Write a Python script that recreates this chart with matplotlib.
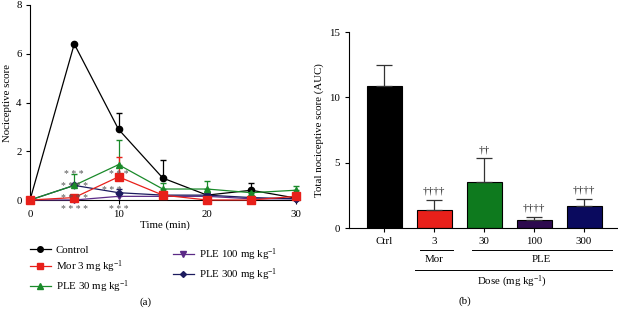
import numpy as np
import matplotlib
matplotlib.use("Agg")
import matplotlib.pyplot as plt
from matplotlib.lines import Line2D

plt.rcParams['font.family'] = ['Liberation Serif', 'DejaVu Serif']
plt.rcParams['mathtext.default'] = 'regular'
plt.rcParams['font.size'] = 7.8

# (a) time course
time = [0, 5, 10, 15, 20, 25, 30]
ctrl = [0, 6.4, 2.9, 0.9, 0.2, 0.4, 0.08]
ctrl_err = [0, 0, 0.65, 0.75, 0.1, 0.28, 0.05]
mor = [0, 0.1, 0.95, 0.2, 0.0, 0.0, 0.15]
mor_err = [0, 0.05, 0.8, 0.1, 0, 0, 0.05]
ple30 = [0, 0.6, 1.45, 0.45, 0.45, 0.3, 0.4]
ple30_err = [0, 0.45, 1.0, 0.25, 0.33, 0.1, 0.18]
ple100 = [0, 0.0, 0.15, 0.15, 0.15, 0.05, 0.05]
ple100_err = [0, 0, 0.1, 0.05, 0.05, 0.03, 0.03]
ple300 = [0, 0.6, 0.3, 0.2, 0.2, 0.1, 0.05]
ple300_err = [0, 0.1, 0.15, 0.05, 0.05, 0.03, 0.03]

# significance marks on (a): x, y, text
star_x = [5, 5, 5, 5, 10, 9.2, 10]
star_y = [1.15, 0.66, 0.2, -0.28, 1.15, 0.53, -0.28]
star_txt = ["* * *", "* * * *", "* * * *", "* * * *", "* * *", "* * *", "* * *"]

# (b) AUC
groups = ["Ctrl", "3", "30", "100", "300"]
auc = [10.9, 1.4, 3.55, 0.6, 1.65]
auc_err = [1.6, 0.75, 1.8, 0.25, 0.6]
auc_marks = ["", "††††", "††", "††††", "††††"]

fig = plt.figure(figsize=(6.18, 3.09), dpi=100)

ax = fig.add_axes([30/618, 109/309, 270/618, 195/309])
series = [
    (ctrl, ctrl_err, "black", "o", "Control"),
    (ple100, ple100_err, "#5b2a86", "v", "PLE 100 mg kg$^{-1}$"),
    (ple300, ple300_err, "#1c1b5e", "D", "PLE 300 mg kg$^{-1}$"),
    (ple30, ple30_err, "#1a8a2a", "^", "PLE 30 mg kg$^{-1}$"),
    (mor, mor_err, "#e8201a", "s", "Mor 3 mg kg$^{-1}$"),
]
handles = {}
for y, e, c, m, lab in series:
    ms = {"o": 4.5, "s": 5.5, "^": 5, "v": 5, "D": 3.5}[m]
    ax.errorbar(time, y, yerr=[np.zeros(len(e)), e], color=c, marker=m, ms=ms,
                lw=0.9, elinewidth=0.9, capsize=2.5, clip_on=False, zorder=3)
    handles[lab] = Line2D([], [], color=c, marker=m, ms=ms - 0.5, lw=0.9)

ax.set_xlim(0, 30.5)
ax.set_ylim(0, 8)
ax.set_xticks([0, 10, 20, 30])
ax.set_yticks([0, 2, 4, 6, 8])
ax.spines['top'].set_visible(False)
ax.spines['right'].set_visible(False)
ax.tick_params(length=3, width=0.8, pad=3)
ax.tick_params(axis="x", pad=4)
ax.set_xlabel("Time (min)", labelpad=1)
ax.set_ylabel("Nociceptive score", labelpad=3)

for sx, sy, st in zip(star_x, star_y, star_txt):
    ax.text(sx, sy - 0.12, st, ha="center", va="center", fontsize=7,
            color="#555555", clip_on=False, zorder=4)

leg_kw = dict(loc="upper left", frameon=False, handlelength=1.9, handletextpad=0.5,
              labelspacing=0.35, fontsize=7.8, borderaxespad=0, borderpad=0)
leg1 = fig.legend([handles["Control"], handles["Mor 3 mg kg$^{-1}$"], handles["PLE 30 mg kg$^{-1}$"]],
                  ["Control", "Mor 3 mg kg$^{-1}$", "PLE 30 mg kg$^{-1}$"],
                  bbox_to_anchor=(30/618, 1 - 245/309), **leg_kw)
leg2 = fig.legend([handles["PLE 100 mg kg$^{-1}$"], handles["PLE 300 mg kg$^{-1}$"]],
                  ["PLE 100 mg kg$^{-1}$", "PLE 300 mg kg$^{-1}$"],
                  bbox_to_anchor=(173/618, 1 - 246/309), **leg_kw)
fig.text(145/618, 1 - 302/309, "(a)", ha="center", va="center")

# (b)
bx = fig.add_axes([349/618, 81/309, 268/618, 196/309])
colors = ["black", "#e8201a", "#0e7a1e", "#2d0a4e", "#0a0a5e"]
pos = np.arange(len(groups))
bx.bar(pos, auc, width=0.7, color=colors, edgecolor="black", linewidth=0.8,
       yerr=[np.zeros(len(auc_err)), auc_err], capsize=6,
       error_kw=dict(elinewidth=0.9, capthick=0.9, ecolor="#333333"))
for p, v, e, t in zip(pos, auc, auc_err, auc_marks):
    if t:
        bx.text(p, v + e + 0.3, t, ha="center", va="bottom", fontsize=8, color="#222222")
bx.set_xlim(-0.7, 4.66)
bx.set_ylim(0, 15)
bx.set_yticks([0, 5, 10, 15])
bx.set_xticks(pos)
bx.set_xticklabels(groups)
bx.spines['top'].set_visible(False)
bx.spines['right'].set_visible(False)
bx.tick_params(length=3, width=0.8)
bx.set_ylabel("Total nociceptive score (AUC)", labelpad=4)

def frac_y(py):
    return 1 - py / 309

def frac_x(px):
    return px / 618

fig.add_artist(Line2D([frac_x(420), frac_x(453)], [frac_y(250)] * 2, color="black", lw=0.7))
fig.add_artist(Line2D([frac_x(472), frac_x(612)], [frac_y(250)] * 2, color="black", lw=0.7))
fig.add_artist(Line2D([frac_x(415), frac_x(612)], [frac_y(270)] * 2, color="black", lw=0.7))
fig.text(frac_x(434), frac_y(260), "Mor", ha="center", va="center")
fig.text(frac_x(541), frac_y(260), "PLE", ha="center", va="center")
fig.text(frac_x(512), frac_y(282), "Dose (mg kg$^{-1}$)", ha="center", va="center")
fig.text(frac_x(465), frac_y(301), "(b)", ha="center", va="center")

fig.savefig("out.png", dpi=100)
